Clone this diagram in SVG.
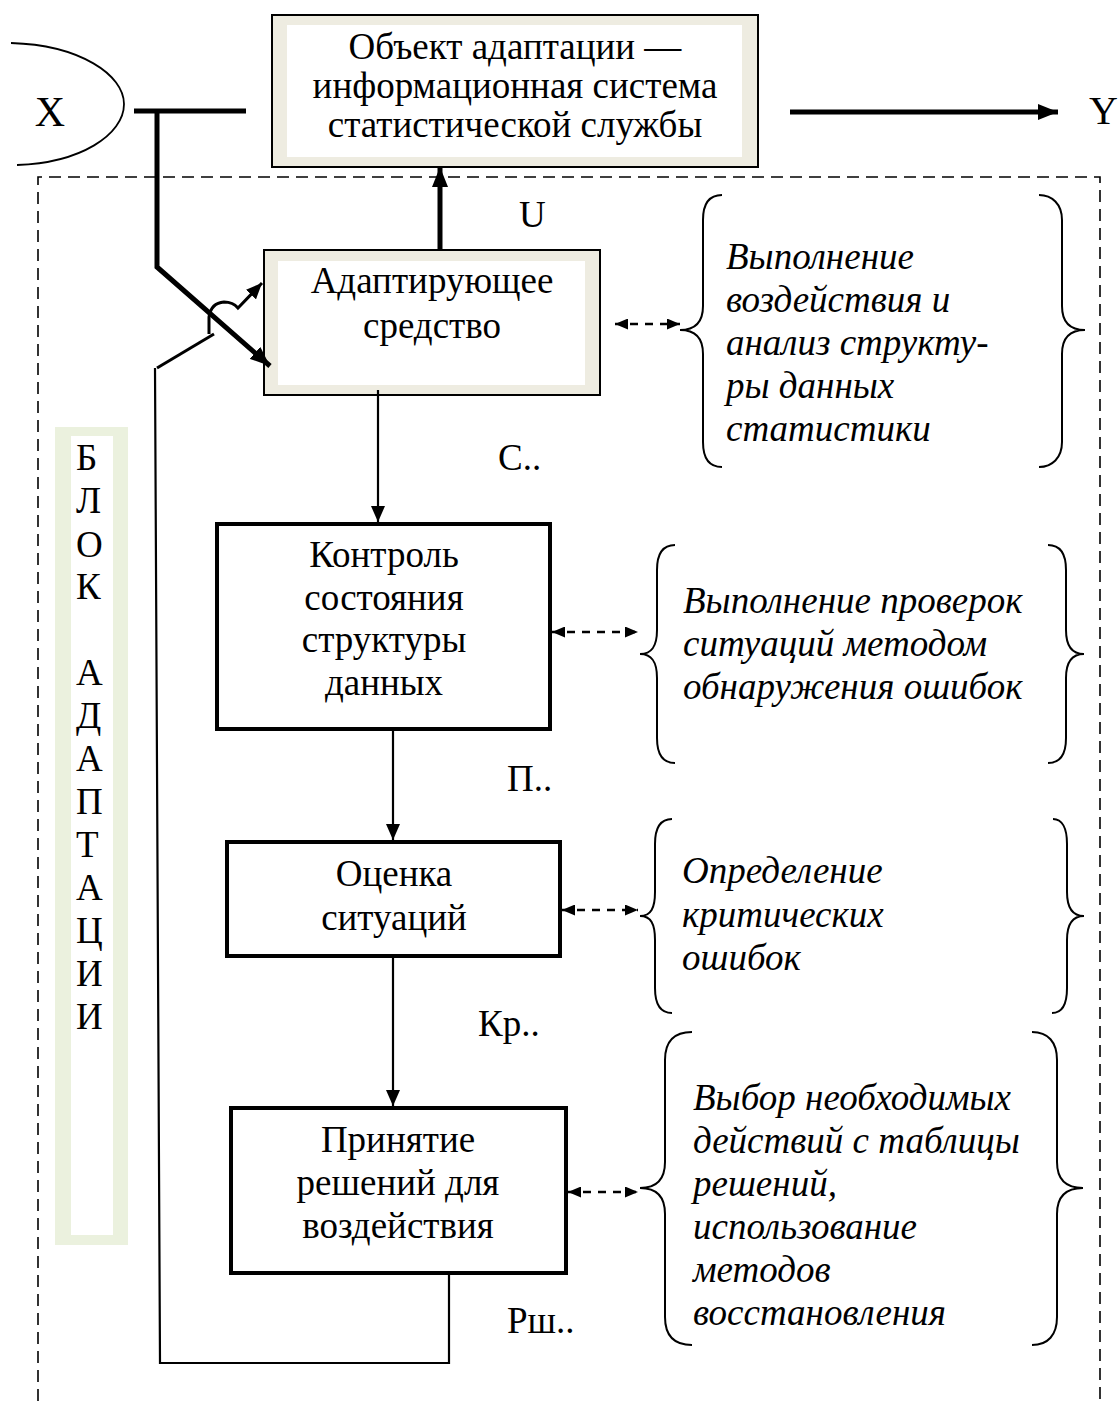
<svg xmlns="http://www.w3.org/2000/svg" width="1119" height="1401" viewBox="0 0 1119 1401">
<defs>
<style>
text{font-family:"Liberation Serif","Times New Roman",serif;font-size:37px;fill:#000}
.c{text-anchor:middle}
.it{font-style:italic}
.frame{fill:none;stroke:#000;stroke-width:1.6;stroke-dasharray:12 7}
.thin{fill:none;stroke:#000;stroke-width:2.2}
.thick{fill:none;stroke:#000;stroke-width:5}
.dash{fill:none;stroke:#000;stroke-width:2.5;stroke-dasharray:8 7}
.brace{fill:none;stroke:#000;stroke-width:2}
.box{fill:#fff;stroke:#000;stroke-width:4}
.bbox{fill:#EEECE1;stroke:#000;stroke-width:2}
</style>
<marker id="ah" viewBox="0 0 16 14" refX="16" refY="7" markerWidth="16" markerHeight="14" markerUnits="userSpaceOnUse" orient="auto"><path d="M0,0 L16,7 L0,14 z" fill="#000"/></marker>
<marker id="ahB" viewBox="0 0 20 16" refX="20" refY="8" markerWidth="20" markerHeight="16" markerUnits="userSpaceOnUse" orient="auto"><path d="M0,0 L20,8 L0,16 z" fill="#000"/></marker>
<marker id="ahS" viewBox="0 0 13 11" refX="13" refY="5.5" markerWidth="13" markerHeight="11" markerUnits="userSpaceOnUse" orient="auto-start-reverse"><path d="M0,0 L13,5.5 L0,11 z" fill="#000"/></marker>
</defs>
<rect width="1119" height="1401" fill="#fff"/>

<g id="frame">
<path class="frame" d="M38,1401 L38,177 L1100,177 L1100,1401"/>
</g>

<g id="input-x">
<path d="M11,43 C80,45 124,75 124,104 C124,135 80,163 17,165" fill="none" stroke="#000" stroke-width="1.8"/>
<text x="50" y="126" class="c" style="font-size:42px">X</text>
</g>

<g id="output-y">
<text x="1089" y="124" style="font-size:40px">Y</text>
</g>

<g id="object">
<rect class="bbox" x="272" y="15" width="486" height="152"/>
<rect x="287" y="25" width="455" height="132" fill="#fff"/>
<text x="515" y="59" class="c">Объект адаптации —</text>
<text x="515" y="98" class="c">информационная система</text>
<text x="515" y="137" class="c">статистической службы</text>
</g>

<g id="adapter">
<rect class="bbox" x="264" y="250" width="336" height="145"/>
<rect x="278" y="261" width="307" height="124" fill="#fff"/>
<text x="432" y="293" class="c">Адаптирующее</text>
<text x="432" y="338" class="c">средство</text>
</g>

<g id="control">
<rect class="box" x="217" y="524" width="333" height="205"/>
<text x="384" y="567" class="c">Контроль</text>
<text x="384" y="610" class="c">состояния</text>
<text x="384" y="652" class="c">структуры</text>
<text x="384" y="695" class="c">данных</text>
</g>

<g id="evaluate">
<rect class="box" x="227" y="842" width="333" height="114"/>
<text x="394" y="886" class="c">Оценка</text>
<text x="394" y="930" class="c">ситуаций</text>
</g>

<g id="decide">
<rect class="box" x="231" y="1108" width="335" height="165"/>
<text x="398" y="1152" class="c">Принятие</text>
<text x="398" y="1195" class="c">решений для</text>
<text x="398" y="1238" class="c">воздействия</text>
</g>

<g id="block-label">
<rect x="55" y="427" width="73" height="818" fill="#EBF1DE"/>
<rect x="71" y="436" width="42" height="799" fill="#fff"/>
<text x="76" y="470">Б</text>
<text x="76" y="513">Л</text>
<text x="76" y="557">О</text>
<text x="76" y="599">К</text>
<text x="76" y="685">А</text>
<text x="76" y="728">Д</text>
<text x="76" y="771">А</text>
<text x="76" y="814">П</text>
<text x="76" y="857">Т</text>
<text x="76" y="900">А</text>
<text x="76" y="943">Ц</text>
<text x="76" y="986">И</text>
<text x="76" y="1029">И</text>
</g>

<g id="note1">
<path class="brace" d="M722,195 C709,195 703,204 703,220 L703,306 C703,322 696,330 680,330 C696,330 703,338 703,354 L703,442 C703,458 709,467 722,467"/>
<path class="brace" d="M1039,195 C1052,195 1062,204 1062,220 L1062,306 C1062,322 1069,330 1085,330 C1069,330 1062,338 1062,354 L1062,442 C1062,458 1052,467 1039,467"/>
<text x="726" y="269" class="it">Выполнение</text>
<text x="726" y="312" class="it">воздействия и</text>
<text x="726" y="355" class="it">анализ структу-</text>
<text x="726" y="398" class="it">ры данных</text>
<text x="726" y="441" class="it">статистики</text>
</g>

<g id="note2">
<path class="brace" d="M675,545 C662,545 657,554 657,570 L657,630 C657,646 652,654 640,654 C652,654 657,662 657,678 L657,738 C657,754 662,763 675,763"/>
<path class="brace" d="M1048,545 C1060,545 1066,554 1066,570 L1066,630 C1066,646 1072,654 1084,654 C1072,654 1066,662 1066,678 L1066,738 C1066,754 1060,763 1048,763"/>
<text x="683" y="613" class="it">Выполнение проверок</text>
<text x="683" y="656" class="it">ситуаций методом</text>
<text x="683" y="699" class="it">обнаружения ошибок</text>
</g>

<g id="note3">
<path class="brace" d="M672,819 C660,819 655,828 655,844 L655,892 C655,908 651,916 640,916 C651,916 655,924 655,940 L655,988 C655,1004 660,1013 672,1013"/>
<path class="brace" d="M1053,819 C1062,819 1067,828 1067,844 L1067,892 C1067,908 1073,916 1084,916 C1073,916 1067,924 1067,940 L1067,988 C1067,1004 1062,1013 1052,1013"/>
<text x="682" y="883" class="it">Определение</text>
<text x="682" y="927" class="it">критических</text>
<text x="682" y="970" class="it">ошибок</text>
</g>

<g id="note4">
<path class="brace" d="M692,1032 C674,1032 665,1042 665,1060 L665,1162 C665,1180 656,1188 640,1188 C656,1188 665,1196 665,1214 L665,1317 C665,1335 674,1345 692,1345"/>
<path class="brace" d="M1032,1032 C1048,1032 1057,1042 1057,1060 L1057,1162 C1057,1180 1066,1188 1083,1188 C1066,1188 1057,1196 1057,1214 L1057,1317 C1057,1335 1048,1345 1032,1345"/>
<text x="693" y="1110" class="it">Выбор необходимых</text>
<text x="693" y="1153" class="it">действий с таблицы</text>
<text x="693" y="1196" class="it">решений,</text>
<text x="693" y="1239" class="it">использование</text>
<text x="693" y="1282" class="it">методов</text>
<text x="693" y="1325" class="it">восстановления</text>
</g>

<g id="connectors">
<path class="thick" d="M134,111 L246,111"/>
<path class="thick" d="M157,111 L157,267 L270,366" marker-end="url(#ahB)"/>
<path class="thick" d="M440,250 L440,167" marker-end="url(#ahB)"/>
<path class="thick" d="M790,112 L1058,112" marker-end="url(#ahB)"/>
<path class="thin" d="M378,390 L378,522" marker-end="url(#ah)"/>
<path class="thin" d="M393,731 L393,840" marker-end="url(#ah)"/>
<path class="thin" d="M393,958 L393,1106" marker-end="url(#ah)"/>
<path class="thin" d="M449,1275 L449,1363 L160,1363 L155,368"/>
<path fill="none" stroke="#000" stroke-width="3" d="M157,368 L214,334"/>
<path fill="none" stroke="#000" stroke-width="3" d="M209,334 L209,317 Q211,303 224,302 Q233,302 238,308 L262,283" marker-end="url(#ah)"/>
<path class="dash" d="M615,324 L680,324" marker-start="url(#ahS)" marker-end="url(#ahS)"/>
<path class="dash" d="M552,632 L638,632" marker-start="url(#ahS)" marker-end="url(#ahS)"/>
<path class="dash" d="M562,910 L638,910" marker-start="url(#ahS)" marker-end="url(#ahS)"/>
<path class="dash" d="M568,1192 L638,1192" marker-start="url(#ahS)" marker-end="url(#ahS)"/>
</g>

<g id="labels">
<text x="519" y="227">U</text>
<text x="498" y="470">С..</text>
<text x="507" y="791">П..</text>
<text x="478" y="1036">Кр..</text>
<text x="507" y="1333">Рш..</text>
</g>
</svg>
